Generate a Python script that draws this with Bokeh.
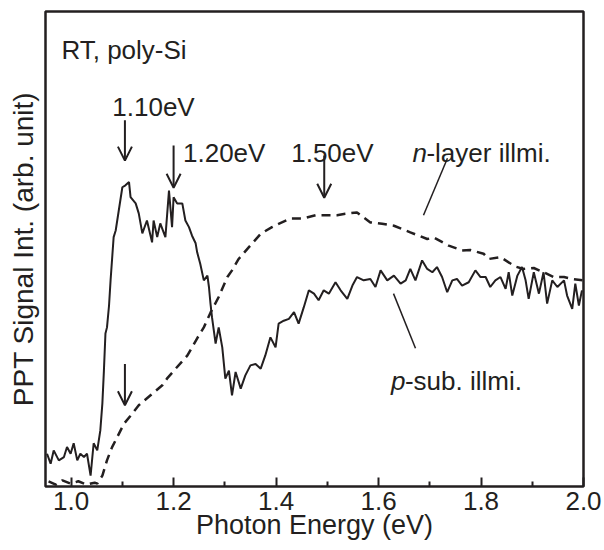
from bokeh.plotting import figure
from bokeh.models import Range1d, FixedTicker, Label, Arrow, OpenHead
from bokeh.embed import file_html
from bokeh.resources import INLINE

# ---- data ----
# p-sub. illumination (solid line)
energy_p = [0.953, 0.960, 0.966, 0.976, 0.986, 0.992, 0.999, 1.005, 1.012, 1.018,
            1.025, 1.031, 1.038, 1.044, 1.051, 1.057, 1.061, 1.064, 1.067, 1.070,
            1.074, 1.077, 1.083, 1.087, 1.093, 1.100, 1.106, 1.113, 1.116, 1.126,
            1.132, 1.139, 1.148, 1.158, 1.161, 1.168, 1.174, 1.184, 1.191, 1.197,
            1.200, 1.207, 1.217, 1.223, 1.230, 1.236, 1.243, 1.246, 1.252, 1.259,
            1.266, 1.269, 1.272, 1.275, 1.282, 1.288, 1.295, 1.301, 1.308, 1.314,
            1.321, 1.331, 1.340, 1.350, 1.360, 1.370, 1.379, 1.389, 1.399, 1.405,
            1.415, 1.425, 1.435, 1.444, 1.454, 1.464, 1.474, 1.483, 1.493, 1.503,
            1.516, 1.526, 1.539, 1.549, 1.558, 1.571, 1.584, 1.594, 1.604, 1.617,
            1.630, 1.643, 1.653, 1.662, 1.672, 1.685, 1.695, 1.705, 1.714, 1.724,
            1.734, 1.744, 1.753, 1.763, 1.776, 1.789, 1.799, 1.809, 1.818, 1.828,
            1.838, 1.848, 1.854, 1.861, 1.871, 1.880, 1.887, 1.893, 1.903, 1.913,
            1.922, 1.929, 1.939, 1.949, 1.962, 1.968, 1.978, 1.984, 1.991, 1.997]
signal_p = [6.9, 4.8, 7.6, 5.5, 6.2, 8.3, 6.9, 9.1, 5.5, 6.9,
            6.2, 6.9, 2.3, 9.1, 7.6, 11.8, 17.5, 24.4, 32.2, 33.5,
            38.1, 43.4, 52.5, 53.9, 58.1, 63.0, 63.4, 64.1, 60.9, 59.6,
            57.5, 53.3, 56.0, 51.4, 56.0, 52.5, 55.4, 52.5, 62.3, 54.6,
            60.9, 59.6, 59.6, 56.0, 54.6, 52.8, 51.2, 49.3, 46.9, 43.4,
            44.4, 42.0, 38.5, 35.6, 30.1, 33.5, 29.3, 22.7, 24.4, 19.2,
            24.1, 20.6, 23.4, 25.5, 25.8, 24.8, 27.6, 31.4, 29.3, 34.3,
            34.9, 35.3, 36.7, 34.3, 37.7, 41.3, 40.6, 39.2, 41.3, 40.6,
            43.0, 41.3, 39.5, 42.3, 44.1, 43.4, 43.7, 42.0, 45.5, 43.4,
            44.4, 42.7, 43.4, 45.8, 43.4, 47.6, 45.8, 45.1, 46.2, 44.1,
            40.9, 43.4, 43.7, 42.3, 43.0, 45.5, 44.1, 44.1, 42.0, 43.4,
            44.1, 41.6, 45.1, 40.2, 44.4, 46.2, 43.4, 39.5, 45.1, 40.6,
            45.1, 38.5, 43.4, 42.0, 43.4, 40.2, 37.4, 42.7, 38.1, 41.3]

# n-layer illumination (dashed line)
energy_n = [0.956, 0.970, 0.983, 0.999, 1.014, 1.030, 1.046, 1.051, 1.061, 1.070,
            1.080, 1.090, 1.103, 1.116, 1.132, 1.155, 1.178, 1.187, 1.204, 1.227,
            1.246, 1.259, 1.272, 1.288, 1.305, 1.314, 1.327, 1.347, 1.370, 1.392,
            1.405, 1.428, 1.451, 1.477, 1.500, 1.519, 1.535, 1.558, 1.584, 1.607,
            1.630, 1.662, 1.695, 1.708, 1.737, 1.763, 1.779, 1.805, 1.815, 1.838,
            1.867, 1.883, 1.903, 1.922, 1.942, 1.962, 1.978, 1.998]
signal_n = [1.1, 0.4, 1.3, 0.6, 1.1, 0.4, 0.8, 0.6, 2.3, 5.5,
            8.3, 10.4, 13.2, 14.9, 17.1, 19.2, 21.3, 22.7, 24.8, 27.6,
            31.2, 33.5, 36.6, 39.9, 44.1, 45.5, 47.9, 50.4, 53.2, 54.6,
            55.3, 56.4, 56.4, 57.1, 57.1, 57.1, 57.4, 57.7, 55.6, 55.3,
            54.9, 53.5, 52.1, 52.4, 50.7, 49.7, 49.8, 49.0, 47.9, 48.3,
            46.3, 45.8, 46.0, 45.1, 44.1, 44.1, 43.7, 43.4]

tick_values = [1.0, 1.2, 1.4, 1.6, 1.8, 2.0]
tick_labels = ["1.0", "1.2", "1.4", "1.6", "1.8", "2.0"]
minor_values = [1.1, 1.3, 1.5, 1.7, 1.9]

# marked energies (arrows) and their labels
peak_energies = [1.105, 1.20, 1.494]
peak_labels = ["1.10eV", "1.20eV", "1.50eV"]

INK = "#231f20"
FONT = "Liberation Sans"

p = figure(width=604, height=550,
           x_range=Range1d(0.95, 2.0), y_range=Range1d(0, 100),
           output_backend="svg", toolbar_location=None,
           min_border_left=45, min_border_right=21,
           min_border_top=11, min_border_bottom=64)
p.grid.visible = False
p.outline_line_color = INK
p.outline_line_width = 2.5
p.outline_line_alpha = 1.0
p.background_fill_color = "white"
p.border_fill_color = "white"

# x axis
xa = p.xaxis[0]
xa.ticker = FixedTicker(ticks=tick_values, minor_ticks=minor_values)
xa.major_label_overrides = {v: s for v, s in zip(tick_values, tick_labels)}
xa.axis_line_color = None
xa.major_tick_in = 9
xa.major_tick_out = 0
xa.minor_tick_in = 5
xa.minor_tick_out = 0
xa.major_tick_line_color = INK
xa.minor_tick_line_color = INK
xa.major_tick_line_width = 2
xa.minor_tick_line_width = 2
xa.major_label_text_font = FONT
xa.major_label_text_font_size = "26px"
xa.major_label_text_color = INK
xa.major_label_standoff = 5
xa.axis_label = "Photon Energy (eV)"
xa.axis_label_text_font = FONT
xa.axis_label_text_font_size = "27px"
xa.axis_label_text_font_style = "normal"
xa.axis_label_text_color = INK
xa.axis_label_standoff = -3

# y axis (no ticks)
ya = p.yaxis[0]
ya.ticker = FixedTicker(ticks=[])
ya.axis_line_color = None
ya.major_tick_line_color = None
ya.minor_tick_line_color = None
ya.axis_label = "PPT Signal Int. (arb. unit)"
ya.axis_label_text_font = FONT
ya.axis_label_text_font_size = "28px"
ya.axis_label_text_font_style = "normal"
ya.axis_label_text_color = INK
ya.axis_label_standoff = 7

# curves
p.line(energy_n, signal_n, line_color=INK, line_width=2.5, line_dash="9 6")
p.line(energy_p, signal_p, line_color=INK, line_width=2)

# arrows marking energies
arrow_spans = [(77.1, 68.6), (71.8, 62.9), (69.7, 60.8)]
for e, (y0, y1) in zip(peak_energies, arrow_spans):
    p.add_layout(Arrow(end=OpenHead(size=14, line_width=2, line_color=INK),
                       x_start=e, y_start=y0, x_end=e, y_end=y1,
                       line_color=INK, line_width=2))
p.add_layout(Arrow(end=OpenHead(size=14, line_width=2, line_color=INK),
                   x_start=peak_energies[0], y_start=25.8,
                   x_end=peak_energies[0], y_end=17.1,
                   line_color=INK, line_width=2))

# leader lines to curve labels
p.segment(x0=[1.7345, 1.6292], y0=[69.1, 40.6], x1=[1.6877, 1.6721], y1=[57.1, 29.1],
          line_color=INK, line_width=1.5)

def lab(x, y, text, align="left", style="normal"):
    p.add_layout(Label(x=x, y=y, text=text, text_font=FONT, text_font_size="26px",
                       text_font_style=style, text_color=INK, text_align=align,
                       text_baseline="alphabetic"))

lab(0.981, 91.8, "RT, poly-Si")
lab(1.1608, 79.8, peak_labels[0], align="center")
lab(1.2988, 70.3, peak_labels[1], align="center")
lab(1.51, 70.3, peak_labels[2], align="center")
lab(1.6662, 70.3, "n", style="italic")
lab(1.6934, 70.3, "-layer illmi.")
lab(1.6243, 22.3, "p", style="italic")
lab(1.6514, 22.3, "-sub. illmi.")

open("out.html", "w").write(file_html(p, INLINE))
